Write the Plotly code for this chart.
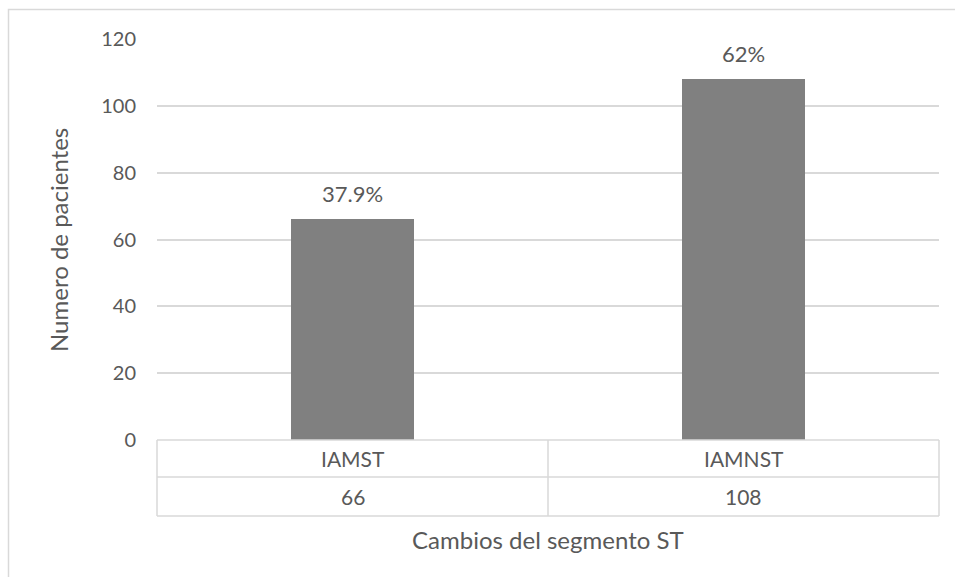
import plotly.graph_objects as go

# ---- data ----
categories = ["IAMST", "IAMNST"]
patients = [66, 108]
percent_labels = ["37.9%", "62%"]
y_ticks = [0, 20, 40, 60, 80, 100, 120]
x_title = "Cambios del segmento ST"
y_title = "Numero de pacientes"

W, H = 955, 577
FONT = "Lato"
TXT = "#595959"
GRID = "#d9d9d9"

def px_x(p):
    return p / W

def px_y(p):
    return 1 - p / H

plot_left, plot_right = 157, 939
plot_top, plot_bottom = 39, 440
row1, row2 = 477, 516

fig = go.Figure()
fig.add_trace(go.Bar(
    x=categories, y=patients, width=0.315,
    marker=dict(color="#808080", line=dict(width=0)),
    hoverinfo="x+y", showlegend=False,
))

# percentage labels above bars
for c, v, t in zip(categories, patients, percent_labels):
    fig.add_annotation(x=c, y=v, xref="x", yref="y", text=t, showarrow=False,
                       yanchor="bottom", yshift=10,
                       font=dict(family=FONT, size=22, color=TXT))

# data table text
for c, v in zip(categories, patients):
    fig.add_annotation(x=c, xref="x", y=px_y((plot_bottom + row1) / 2), yref="paper",
                       text=c, showarrow=False, yanchor="middle",
                       font=dict(family=FONT, size=21, color=TXT))
    fig.add_annotation(x=c, xref="x", y=px_y((row1 + row2) / 2), yref="paper",
                       text=str(v), showarrow=False, yanchor="middle",
                       font=dict(family=FONT, size=21, color=TXT))

shapes = []
lw = 1.5
# table horizontal lines
for yy in (plot_bottom, row1, row2):
    shapes.append(dict(type="line", xref="paper", yref="paper",
                       x0=px_x(plot_left), x1=px_x(plot_right), y0=px_y(yy), y1=px_y(yy),
                       line=dict(color=GRID, width=lw)))
# table vertical lines
mid = (plot_left + plot_right) / 2
for xx in (plot_left, mid, plot_right):
    shapes.append(dict(type="line", xref="paper", yref="paper",
                       x0=px_x(xx), x1=px_x(xx), y0=px_y(plot_bottom), y1=px_y(row2),
                       line=dict(color=GRID, width=lw)))
# outer chart border
shapes.append(dict(type="rect", xref="paper", yref="paper",
                   x0=px_x(8.5), x1=1.05, y0=-0.05, y1=px_y(9.5),
                   line=dict(color=GRID, width=1.5), fillcolor="rgba(0,0,0,0)"))

# axis titles
fig.add_annotation(x=px_x(mid), y=px_y(539), xref="paper", yref="paper",
                   text=x_title, showarrow=False, yanchor="middle",
                   font=dict(family=FONT, size=24, color=TXT))
fig.add_annotation(x=px_x(58), y=px_y(240), xref="paper", yref="paper",
                   text=y_title, showarrow=False, textangle=-90, xanchor="center",
                   yanchor="middle", font=dict(family=FONT, size=24, color=TXT))

fig.update_layout(
    template="none",
    width=W, height=H,
    margin=dict(l=0, r=0, t=0, b=0, pad=0, autoexpand=False),
    paper_bgcolor="white", plot_bgcolor="white",
    shapes=shapes,
    bargap=0,
    showlegend=False,
    xaxis=dict(domain=[px_x(plot_left), px_x(plot_right)], range=[-0.5, 1.5],
               showticklabels=False, showgrid=False, zeroline=False,
               showline=False, ticks="", fixedrange=True, automargin=False),
    yaxis=dict(domain=[px_y(plot_bottom), px_y(plot_top)], range=[0, 120],
               tickvals=y_ticks, ticktext=[str(t) for t in y_ticks],
               showgrid=True, gridcolor=GRID, gridwidth=1.5,
               zeroline=False, showline=False, ticks="",
               ticklabelstandoff=20, automargin=False,
               tickfont=dict(family=FONT, size=20, color=TXT), fixedrange=True),
    font=dict(family=FONT, color=TXT),
)

fig.write_html("out.html")
